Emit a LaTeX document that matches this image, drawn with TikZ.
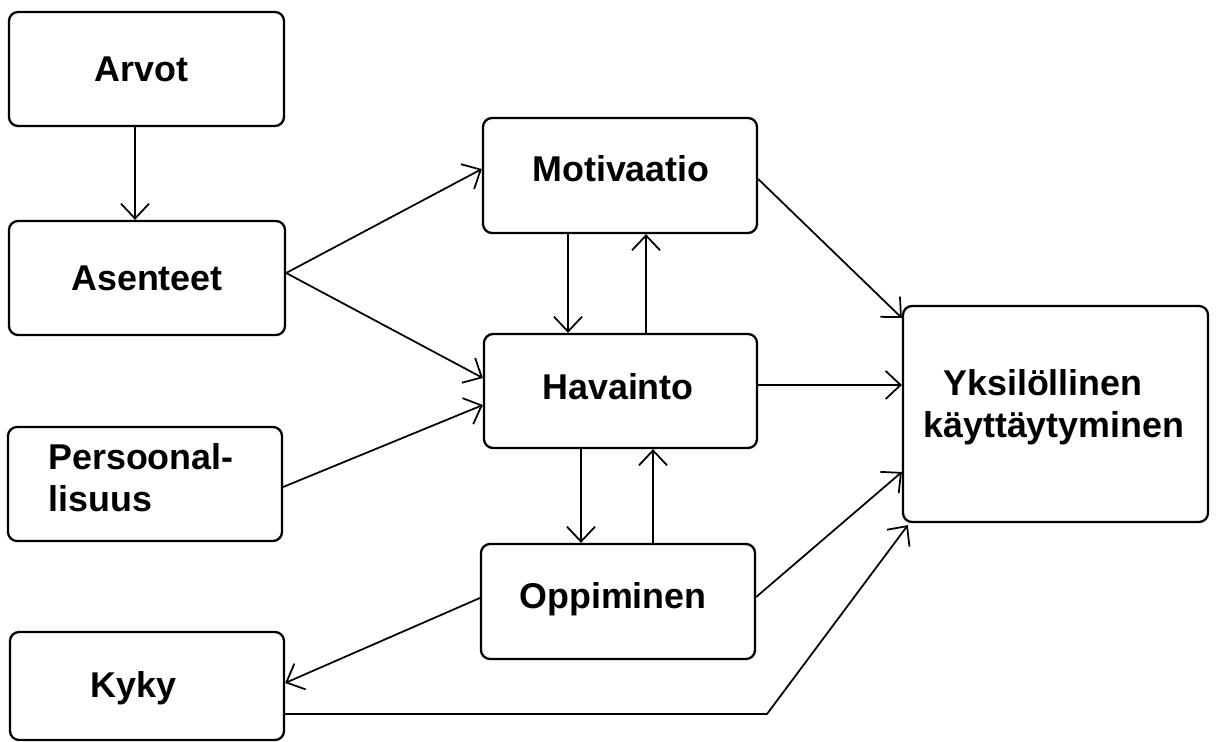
\documentclass[tikz,border=0pt]{standalone}
\usepackage{fontspec}
\setmainfont{Liberation Sans}
\usetikzlibrary{arrows.meta,calc,fit}
\begin{document}
\begin{tikzpicture}[x=0.02cm,y=-0.02cm,
  box/.style={draw,line width=1.3pt,rounded corners=0.18cm,inner sep=0pt},
  txt/.style={inner sep=0pt,font=\fontsize{20.4}{24}\selectfont\bfseries},
  arr/.style={line width=1pt,-{Straight Barb[length=8.5pt,width=16pt,line width=1pt]}}]
\fill[white] (0,0) rectangle (1216,742);
\useasboundingbox (0,0) rectangle (1216,742);
% boxes
\node[box,fit={(9,12) (284,126)}] (arvot) {};
\node[box,fit={(9,221) (285,335)}] (asenteet) {};
\node[box,fit={(8,427) (282,541)}] (personal) {};
\node[box,fit={(10,632) (284,740)}] (kyky) {};
\node[box,fit={(483,118) (757,233)}] (motiv) {};
\node[box,fit={(484,334) (757,448)}] (havainto) {};
\node[box,fit={(481,544) (755,659)}] (oppi) {};
\node[box,fit={(903,306) (1208,522)}] (yks) {};
% texts
\node[txt,anchor=base west] (tarvot) at (94,82) {Arvot};
\node[txt,anchor=base] (tasenteet) at (147,291) {Asenteet};
\node[txt,anchor=base west] (tpers1) at (48,470) {Persoonal-};
\node[txt,anchor=base west] (tpers2) at (48,512) {lisuus};
\node[txt,anchor=base west] (tkyky) at (90,697) {Kyky};
\node[txt,anchor=base west] (tmotiv) at (532,182) {Motivaatio};
\node[txt,anchor=base west] (thav) at (542,400) {Havainto};
\node[txt,anchor=base west] (toppi) at (519,608) {Oppiminen};
\node[txt,anchor=base west] (tyks1) at (943,396) {Yksilöllinen};
\node[txt,anchor=base west] (tyks2) at (923,438) {käyttäytyminen};
% connectors
\draw[arr] ($(arvot.south)+(-11.5,0)$) -- ($(asenteet.north)+(-12,0)$);
\draw[arr] ($(asenteet.east)+(0,-5)$) -- ($(motiv.west)+(0,-6.5)$);
\draw[arr] ($(asenteet.east)+(0,-5)$) -- ($(havainto.west)+(0,-13)$);
\draw[arr] ($(personal.east)+(0,3)$) -- ($(havainto.west)+(0,14)$);
\draw[arr] ($(motiv.south)+(-52,0)$) -- ($(havainto.north)+(-52.5,0)$);
\draw[arr] ($(havainto.north)+(25.5,0)$) -- ($(motiv.south)+(26,0)$);
\draw[arr] ($(havainto.south)+(-39.5,0)$) -- ($(oppi.north)+(-37,0)$);
\draw[arr] ($(oppi.north)+(35,0)$) -- ($(havainto.south)+(32.5,0)$);
\draw[arr] ($(motiv.east)+(0,3.5)$) -- ($(yks.west)+(0,-96)$);
\draw[arr] ($(havainto.east)+(0,-6)$) -- ($(yks.west)+(0,-29)$);
\draw[arr] ($(oppi.east)+(0,-4.5)$) -- ($(yks.west)+(0,58)$);
\draw[arr] ($(oppi.west)+(0,-3.5)$) -- ($(kyky.east)+(0,-3)$);
\coordinate (bend) at (767,714);
\draw[arr] ($(kyky.east)+(0,28)$) -- (bend) -- ($(yks.south west)+(6,2)$);
\end{tikzpicture}
\end{document}
